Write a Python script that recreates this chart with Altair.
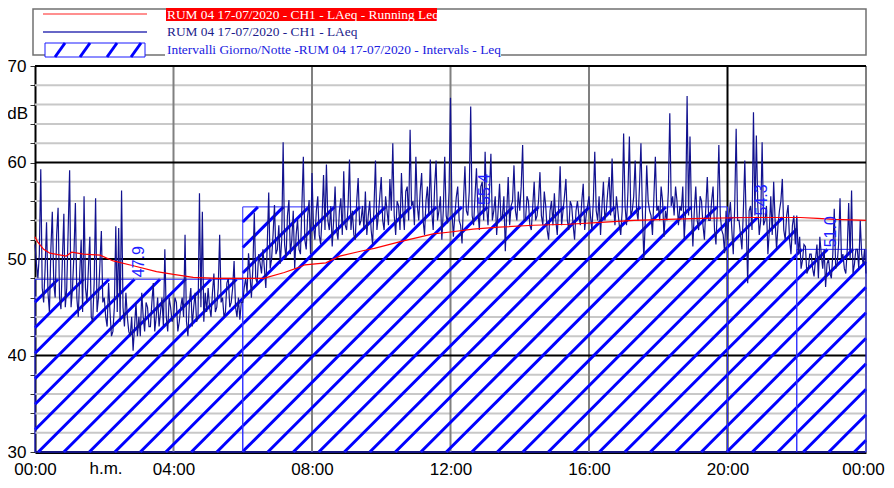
import altair as alt
import pandas as pd
import numpy as np

# ---------------- data ----------------
# LAeq, 2.5-minute samples, one list per hour (dB)
H00 = [51.5, 49.5, 48.0, 50.5, 59.3, 47.0, 45.5, 49.0, 53.8, 46.5, 44.5, 51.0, 54.9, 47.5, 46.0, 52.5, 55.3, 46.0, 44.8, 50.0, 54.7, 45.0, 47.0, 53.0]
H01 = [59.2, 45.0, 47.0, 50.5, 55.8, 46.0, 44.0, 48.5, 52.0, 44.5, 56.5, 47.0, 45.5, 49.0, 52.3, 44.0, 43.5, 47.5, 56.3, 44.5, 46.0, 49.5, 52.9, 45.5]
H02 = [46.0, 44.0, 43.0, 47.5, 44.5, 42.0, 42.5, 45.0, 53.4, 44.5, 53.2, 43.5, 57.1, 45.0, 43.0, 46.5, 44.0, 42.5, 42.0, 44.0, 40.5, 43.0, 45.5, 42.0]
H03 = [44.0, 42.0, 46.5, 44.0, 42.5, 45.5, 45.0, 43.0, 43.0, 45.5, 47.5, 42.5, 44.0, 46.0, 43.0, 44.5, 46.0, 43.0, 51.0, 44.0, 42.5, 46.0, 45.0, 43.5]
H04 = [44.0, 46.0, 45.5, 42.5, 43.5, 45.0, 46.0, 44.0, 52.5, 43.5, 42.0, 45.5, 47.0, 43.0, 45.0, 46.5, 43.5, 44.0, 56.8, 45.0, 54.9, 43.5, 46.5, 44.5]
H05 = [47.0, 45.0, 44.0, 46.5, 48.5, 44.5, 45.0, 47.0, 52.5, 45.5, 46.0, 44.0, 44.5, 47.5, 48.0, 45.0, 45.5, 47.0, 49.8, 45.0, 44.0, 46.0, 43.7, 45.5]
H06 = [45.5, 47.0, 48.0, 46.5, 50.6, 48.5, 46.0, 49.0, 54.8, 48.0, 47.5, 50.5, 49.6, 48.5, 51.0, 49.0, 47.0, 51.5, 56.9, 49.0, 50.0, 52.5, 55.6, 50.5]
H07 = [51.0, 53.5, 49.5, 52.0, 62.1, 51.5, 50.0, 54.5, 56.1, 50.5, 52.0, 55.0, 49.0, 52.5, 54.1, 51.0, 50.5, 55.5, 60.6, 52.0, 51.0, 54.5, 56.1, 50.5]
H08 = [58.9, 53.5, 52.0, 55.0, 56.5, 52.5, 51.5, 54.5, 58.7, 53.0, 59.8, 54.0, 53.0, 55.5, 51.3, 54.0, 57.5, 53.0, 52.0, 55.0, 56.3, 52.5, 59.1, 53.5]
H09 = [53.0, 55.5, 60.3, 53.0, 55.0, 52.5, 52.0, 56.0, 58.4, 53.5, 54.0, 55.5, 53.0, 57.0, 52.5, 54.5, 56.0, 53.0, 51.5, 55.5, 60.2, 53.0, 54.5, 56.5]
H10 = [58.5, 54.0, 53.0, 56.5, 55.0, 53.5, 58.3, 55.0, 62.0, 54.5, 52.5, 56.0, 55.5, 53.0, 58.9, 55.0, 53.0, 57.0, 57.5, 54.0, 63.4, 55.5, 56.0, 53.5]
H11 = [60.6, 55.5, 54.0, 57.0, 58.9, 54.0, 52.5, 56.0, 57.5, 54.5, 60.3, 55.0, 53.0, 57.5, 60.2, 54.0, 55.0, 56.5, 52.0, 55.0, 60.6, 54.5, 53.7, 57.0]
H12 = [66.7, 55.0, 52.3, 54.5, 56.4, 57.5, 54.0, 53.5, 51.6, 56.0, 59.6, 55.0, 54.5, 57.0, 65.8, 54.5, 53.5, 56.5, 59.4, 55.0, 53.0, 57.5, 58.0, 54.0]
H13 = [61.1, 55.5, 53.5, 57.0, 60.9, 54.0, 55.0, 56.5, 52.5, 55.0, 57.8, 54.0, 54.5, 56.5, 50.8, 55.0, 58.5, 53.5, 55.5, 56.0, 59.7, 55.0, 54.0, 57.0]
H14 = [55.0, 57.5, 61.8, 54.0, 54.0, 56.5, 56.0, 53.5, 53.0, 55.5, 58.0, 54.0, 54.5, 56.0, 59.0, 54.5, 53.5, 57.0, 55.5, 53.0, 52.0, 55.0, 56.0, 53.5]
H15 = [56.8, 54.0, 52.5, 55.5, 59.6, 53.5, 55.0, 56.5, 58.3, 54.0, 53.0, 56.0, 55.5, 53.5, 52.0, 55.0, 56.0, 54.5, 53.5, 56.0, 57.8, 53.0, 54.5, 55.5]
H16 = [56.5, 54.5, 53.0, 56.0, 61.1, 55.0, 54.0, 56.5, 52.5, 55.5, 58.0, 54.0, 55.0, 57.0, 58.5, 54.5, 60.4, 55.5, 53.5, 56.5, 55.0, 53.5, 52.5, 55.0]
H17 = [63.0, 55.5, 53.5, 57.0, 62.7, 54.5, 55.0, 56.5, 60.2, 55.0, 54.0, 57.5, 62.0, 55.0, 49.9, 54.0, 59.7, 56.0, 55.0, 54.5, 52.5, 56.5, 60.6, 55.0]
H18 = [55.5, 54.0, 57.5, 56.0, 52.3, 55.0, 54.0, 57.0, 65.1, 55.5, 56.5, 54.5, 57.5, 56.0, 53.5, 55.5, 55.0, 57.5, 52.0, 55.0, 66.9, 54.5, 62.7, 55.0]
H19 = [51.3, 55.0, 57.5, 54.0, 53.0, 56.5, 56.0, 53.5, 52.0, 55.5, 58.5, 54.0, 54.0, 56.0, 57.5, 53.0, 51.5, 55.5, 61.8, 54.5, 53.0, 52.5, 50.6, 55.0]
H20 = [52.0, 54.5, 55.9, 53.0, 50.5, 55.5, 63.5, 54.0, 54.0, 52.5, 51.0, 55.0, 60.2, 53.5, 47.5, 55.0, 55.5, 53.0, 65.2, 54.5, 62.8, 55.5, 52.5, 54.0]
H21 = [62.1, 53.5, 54.0, 55.5, 50.5, 53.0, 56.5, 52.5, 58.0, 54.0, 51.0, 53.5, 55.0, 56.0, 58.3, 53.0, 52.0, 54.5, 55.6, 52.0, 50.5, 53.5, 54.5, 51.5]
H22 = [54.5, 50.5, 52.3, 49.0, 49.9, 51.5, 51.3, 48.5, 48.9, 50.5, 50.5, 49.0, 48.2, 50.0, 51.5, 48.0, 52.3, 50.5, 49.0, 51.0, 47.1, 49.5, 50.0, 48.5]
H23 = [48.0, 50.5, 55.2, 49.0, 49.5, 51.5, 56.3, 50.0, 50.5, 49.0, 48.5, 51.0, 55.8, 50.0, 57.1, 48.5, 49.5, 51.0, 51.0, 49.0, 54.0, 50.5, 49.5, 51.0]
END = [48.5]

laeq = (H00 + H01 + H02 + H03 + H04 + H05 + H06 + H07 + H08 + H09 + H10 + H11 +
        H12 + H13 + H14 + H15 + H16 + H17 + H18 + H19 + H20 + H21 + H22 + H23 + END)
laeq_t = [i / 24 for i in range(len(laeq))]  # hours

# Running Leq (hours, dB)
run_t = [0.0, 0.07, 0.25, 0.43, 0.9, 1.06, 1.4, 1.88, 2.26, 2.84, 3.51, 4.0, 4.57,
         5.25, 6.0, 6.6, 7.2, 7.6, 7.8, 8.4, 8.8, 9.4, 9.8, 10.55, 11.5, 12.0, 12.65,
         13.4, 14.4, 15.4, 16.35, 17.3, 18.27, 19.23, 20.7, 22.1, 22.6, 23.1, 24.0]
run_v = [52.3, 51.8, 51.0, 50.6, 50.3, 50.7, 50.5, 50.4, 49.8, 49.3, 48.7, 48.4, 48.1,
         48.0, 48.0, 48.0, 48.6, 49.1, 49.4, 49.6, 50.3, 50.8, 51.1, 51.8, 52.6, 52.8, 53.1,
         53.3, 53.5, 53.6, 53.8, 54.0, 54.1, 54.2, 54.3, 54.3, 54.2, 54.1, 54.0]

# Day/night intervals
int_start = [0, 6, 20, 22]
int_end = [6, 20, 22, 24]
int_leq = [47.9, 55.4, 54.3, 51.0]

x_ticks = [0, 4, 8, 12, 16, 20, 24]
y_ticks = list(range(30, 71, 2))
minor_y = [v for v in y_ticks if v % 10 != 0]
major_y = [40, 50, 60, 70]
grid_x_gray = [4, 8, 12, 16, 24]
grid_x_black = [20]

# ---------------- layout ----------------
W, H = 831, 386
PXH = W / 24.0
PXD = H / 40.0
HATCH_SPACING = 25.5
HATCH_PHASE = 3.3

SANS = "Liberation Sans, Arial, sans-serif"
SERIF = "Liberation Serif, Times New Roman, serif"
NAVY = "#12128f"
HBLUE = "#0000ff"

# hatch segments derived from the interval rectangles (45 deg on screen)
segs = []
for s_, e_, v_ in zip(int_start, int_end, int_leq):
    x1, x2 = s_ * PXH, e_ * PXH
    top = (v_ - 30) * PXD
    kmin = int(np.floor((x1 - top - HATCH_PHASE) / HATCH_SPACING)) - 1
    kmax = int(np.ceil((x2 - HATCH_PHASE) / HATCH_SPACING)) + 1
    for k in range(kmin, kmax + 1):
        c = HATCH_PHASE + k * HATCH_SPACING
        ylo = max(0.0, x1 - c)
        yhi = min(top, x2 - c)
        if yhi - ylo > 0.5:
            segs.append(dict(t=(c + ylo) / PXH, v=30 + ylo / PXD,
                             t2=(c + yhi) / PXH, v2=30 + yhi / PXD))
hatch_df = pd.DataFrame(segs)

series_df = pd.DataFrame({"t": laeq_t, "v": laeq})
run_df = pd.DataFrame({"t": run_t, "v": run_v})
int_df = pd.DataFrame({"s": int_start, "e": int_end, "leq": int_leq})
int_df["mid"] = (int_df["s"] + int_df["e"]) / 2

xscale = alt.Scale(domain=[0, 24], nice=False, zero=False)
yscale = alt.Scale(domain=[30, 70], nice=False, zero=False)

XA = alt.Axis(values=x_ticks, grid=False, ticks=False, domain=True, domainColor="black",
              domainWidth=3, labelFont=SANS, labelFontSize=17, labelColor="black",
              labelPadding=9, labelFlush=False, labelOverlap=False, title=None,
              labelOffset={"condition": {"test": "datum.value == 24", "value": -3}, "value": 0},
              labelExpr="datum.value == 24 ? '00:00' : ((datum.value < 10 ? '0' : '') + datum.value + ':00')")
YA = alt.Axis(values=y_ticks, grid=False, ticks=True, tickSize=5, tickColor="#303030",
              tickWidth=1, domain=True, domainColor="black", domainWidth=2,
              labelFont=SANS, labelFontSize=17, labelColor="black", labelPadding=4,
              labelFlush=False, labelOverlap=False, title=None,
              labelExpr="datum.value % 10 == 0 ? datum.label : ''")


def X(field, **kw):
    return alt.X(field, scale=xscale, axis=XA, **kw)


def Y(field, **kw):
    return alt.Y(field, scale=yscale, axis=YA, **kw)


one = pd.DataFrame({"a": [0]})

minor_grid = alt.Chart(pd.DataFrame({"v": minor_y})).mark_rule(
    color="#c8c8c8", strokeWidth=2).encode(y=Y("v:Q"))
major_grid = alt.Chart(pd.DataFrame({"v": major_y})).mark_rule(
    color="black", strokeWidth=2).encode(y=Y("v:Q"))
vgrid_gray = alt.Chart(pd.DataFrame({"t": grid_x_gray})).mark_rule(
    color="#808080", strokeWidth=2).encode(x=X("t:Q"))
vgrid_black = alt.Chart(pd.DataFrame({"t": grid_x_black})).mark_rule(
    color="black", strokeWidth=2).encode(x=X("t:Q"))

hatch = alt.Chart(hatch_df).mark_rule(color=HBLUE, strokeWidth=3, strokeCap="butt").encode(
    x=X("t:Q"), y=Y("v:Q"), x2="t2:Q", y2="v2:Q")

int_rect = alt.Chart(int_df).mark_rect(fillOpacity=0, stroke="#2a2aff", strokeWidth=1).encode(
    x=X("s:Q"), x2="e:Q", y=Y("leq:Q"), y2=alt.Y2(datum=30))

series = alt.Chart(series_df).mark_line(color=NAVY, strokeWidth=1.2).encode(
    x=X("t:Q"), y=Y("v:Q"))

running = alt.Chart(run_df).mark_line(color="#ff0000", strokeWidth=1.2).encode(
    x=X("t:Q"), y=Y("v:Q"))

int_labels = alt.Chart(int_df).mark_text(angle=270, align="left", baseline="middle", dx=2,
                                         font=SANS, fontSize=16, color="#1e1eff").encode(
    x=X("mid:Q"), y=Y("leq:Q"), text=alt.Text("leq:Q", format=".1f"))

db_label = alt.Chart(one).mark_text(text="dB", align="right", baseline="middle", font=SANS,
                                    fontSize=17, color="black").encode(
    x=alt.value(-7), y=alt.Y(datum=65, scale=yscale, axis=YA))
hm_label = alt.Chart(one).mark_text(text="h.m.", align="center", baseline="top", font=SANS,
                                    fontSize=17, color="black").encode(
    x=alt.X(datum=2.05, scale=xscale, axis=XA), y=alt.value(H + 9))

# ---------------- legend (drawn in the top padding) ----------------
leg_box = alt.Chart(one).mark_rect(fill="white", stroke="#707070", strokeWidth=1.5).encode(
    x=alt.value(-2), x2=alt.value(831), y=alt.value(-57), y2=alt.value(-11))
leg_red_line = alt.Chart(one).mark_rule(color="#ff2020", strokeWidth=1.2).encode(
    x=alt.value(8), x2=alt.value(112), y=alt.value(-52))
leg_red_bg = alt.Chart(one).mark_rect(fill="#ff0000").encode(
    x=alt.value(131), x2=alt.value(402), y=alt.value(-58), y2=alt.value(-45))
leg_red_txt = alt.Chart(one).mark_text(
    text="RUM 04 17-07/2020 - CH1 - LAeq - Running Leq", align="left", baseline="middle",
    font=SERIF, fontSize=13.4, color="white").encode(x=alt.value(132), y=alt.value(-51.5))
leg_blue_line = alt.Chart(one).mark_rule(color="#3434b4", strokeWidth=1.4).encode(
    x=alt.value(8), x2=alt.value(112), y=alt.value(-34))
leg_blue_txt = alt.Chart(one).mark_text(
    text="RUM 04 17-07/2020 - CH1 - LAeq", align="left", baseline="middle",
    font=SERIF, fontSize=13.4, color="#1c1c8c").encode(x=alt.value(132), y=alt.value(-34.5))
leg_mask = alt.Chart(one).mark_rect(fill="white").encode(
    x=alt.value(130), x2=alt.value(466), y=alt.value(-25), y2=alt.value(-9))
leg_swatch = alt.Chart(one).mark_rect(fill="white", stroke="#1a1aff", strokeWidth=1).encode(
    x=alt.value(10), x2=alt.value(110), y=alt.value(-23), y2=alt.value(-9))
swatch_lines = [
    alt.Chart(one).mark_rule(color=HBLUE, strokeWidth=3).encode(
        x=alt.value(x0), x2=alt.value(x0 + 10), y=alt.value(-9), y2=alt.value(-23))
    for x0 in (20, 45, 72, 96)
]
leg_int_txt = alt.Chart(one).mark_text(
    text="Intervalli Giorno/Notte -RUM 04 17-07/2020 - Intervals - Leq", align="left",
    baseline="middle", font=SERIF, fontSize=13.4, color="#2020e0").encode(
    x=alt.value(132), y=alt.value(-16.5))

chart = alt.layer(
    minor_grid, vgrid_gray, vgrid_black, major_grid, hatch, int_rect, series,
    running, int_labels, db_label, hm_label,
    leg_box, leg_red_line, leg_red_bg, leg_red_txt, leg_blue_line, leg_blue_txt,
    leg_mask, leg_swatch, *swatch_lines, leg_int_txt
).properties(
    width=W, height=H,
    autosize=alt.AutoSizeParams(type="none"),
    padding={"left": 27, "top": 58, "right": 20, "bottom": 28},
).configure_view(stroke=None).configure(background="white")

chart.save("out.html", embed_options={"renderer": "svg", "actions": False})
